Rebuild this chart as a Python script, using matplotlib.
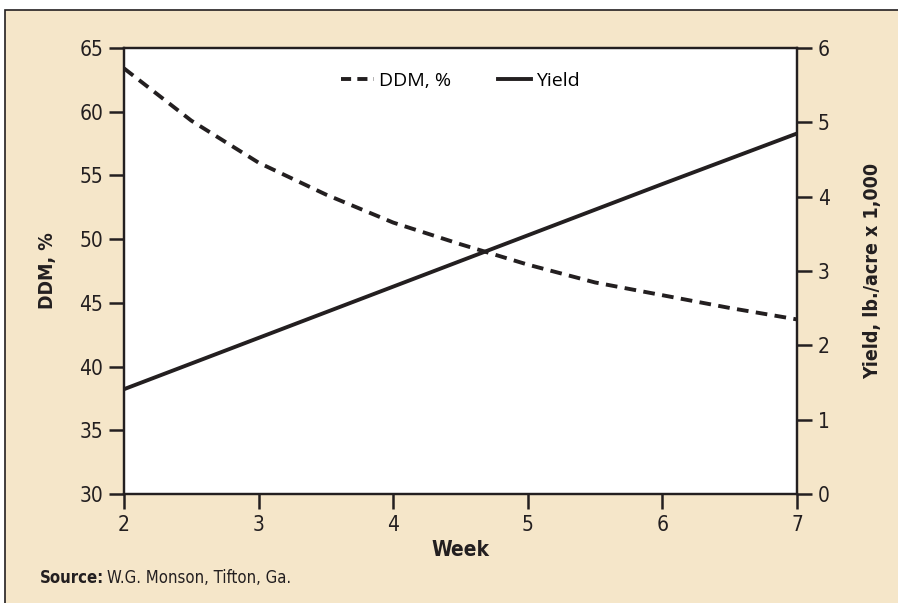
import matplotlib
matplotlib.use("Agg")
import matplotlib.pyplot as plt
from matplotlib.patches import Rectangle
from matplotlib.lines import Line2D
from matplotlib import font_manager as fm

weeks_ddm = [2, 2.5, 3, 3.5, 4, 4.5, 5, 5.5, 6, 6.5, 7]
ddm = [63.4, 59.3, 56.0, 53.5, 51.3, 49.6, 48.0, 46.6, 45.6, 44.6, 43.7]
weeks_yield = [2, 3, 4, 5, 6, 7]
yield_k = [1.41, 2.10, 2.79, 3.48, 4.17, 4.85]

x_ticks = [2, 3, 4, 5, 6, 7]
ddm_ticks = [30, 35, 40, 45, 50, 55, 60, 65]
yield_ticks = [0, 1, 2, 3, 4, 5, 6]

BG = "#F5E6C9"
INK = "#231F20"
names = {f.name for f in fm.fontManager.ttflist}
COND = ["Liberation Sans Narrow"] if "Liberation Sans Narrow" in names else ["DejaVu Sans"]
STRETCH = "condensed"
DASH = (0, (3.0, 1.9))

W, H = 898, 603
fig = plt.figure(figsize=(W / 100, H / 100), dpi=100)
fig.patch.set_facecolor("white")

bg = fig.add_axes([0, 0, 1, 1], zorder=-5)
bg.set_xlim(0, W)
bg.set_ylim(H, 0)
bg.axis("off")
bg.add_patch(Rectangle((5, 10), W + 20, H + 20, facecolor=BG, edgecolor=INK, linewidth=1.2))

ax = fig.add_axes([124 / W, 1 - 494 / H, (797 - 124) / W, (494 - 48) / H])
ax.set_facecolor("white")
ax.plot(weeks_ddm, ddm, color=INK, lw=2.8, linestyle=DASH, label="DDM, %")
ax.set_xlim(2, 7)
ax.set_ylim(30, 65)
ax.set_xticks(x_ticks)
ax.set_yticks(ddm_ticks)

ax2 = ax.twinx()
ax2.plot(weeks_yield, yield_k, color=INK, lw=2.8, label="Yield")
ax2.set_ylim(0, 6)
ax2.set_yticks(yield_ticks)

for a in (ax, ax2):
    for s in a.spines.values():
        s.set_linewidth(1.6)
        s.set_color(INK)
    a.tick_params(length=11, width=1.8, color=INK, labelsize=15, labelcolor=INK, pad=4)
    for lab in a.get_xticklabels() + a.get_yticklabels():
        lab.set_family(COND)
        lab.set_fontstretch(STRETCH)

ax.set_xlabel("Week", fontsize=15, fontweight="bold", family=COND, fontstretch=STRETCH,
              color=INK, labelpad=4)
ax.set_ylabel("DDM, %", fontsize=14, fontweight="bold", family=COND, fontstretch=STRETCH,
              color=INK, labelpad=16)
ax2.set_ylabel("Yield, lb./acre x 1,000", fontsize=14, fontweight="bold", family=COND,
               fontstretch=STRETCH, color=INK, labelpad=24)

handles = [Line2D([], [], color=INK, lw=2.8, linestyle=(0, (2.6, 1.6))),
           Line2D([], [], color=INK, lw=2.8)]
ax.legend(handles, ["DDM, %", "Yield"], loc="upper center", bbox_to_anchor=(0.5, 0.985),
          ncol=2, frameon=False, handlelength=1.7, handletextpad=0.25, columnspacing=2.4,
          prop={"family": "Open Sans", "size": 14})

t1 = fig.text(40 / W, 1 - 578 / H, "Source:", fontsize=12, fontweight="bold", family=COND,
              fontstretch=STRETCH, color=INK, va="center")
fig.canvas.draw()
bb = t1.get_window_extent(fig.canvas.get_renderer())
fig.text((bb.x1 + 3) / W, 1 - 578 / H, "W.G. Monson, Tifton, Ga.", fontsize=12, family=COND,
         fontstretch=STRETCH, color=INK, va="center")

fig.savefig("out.png", dpi=100, facecolor=fig.get_facecolor())
